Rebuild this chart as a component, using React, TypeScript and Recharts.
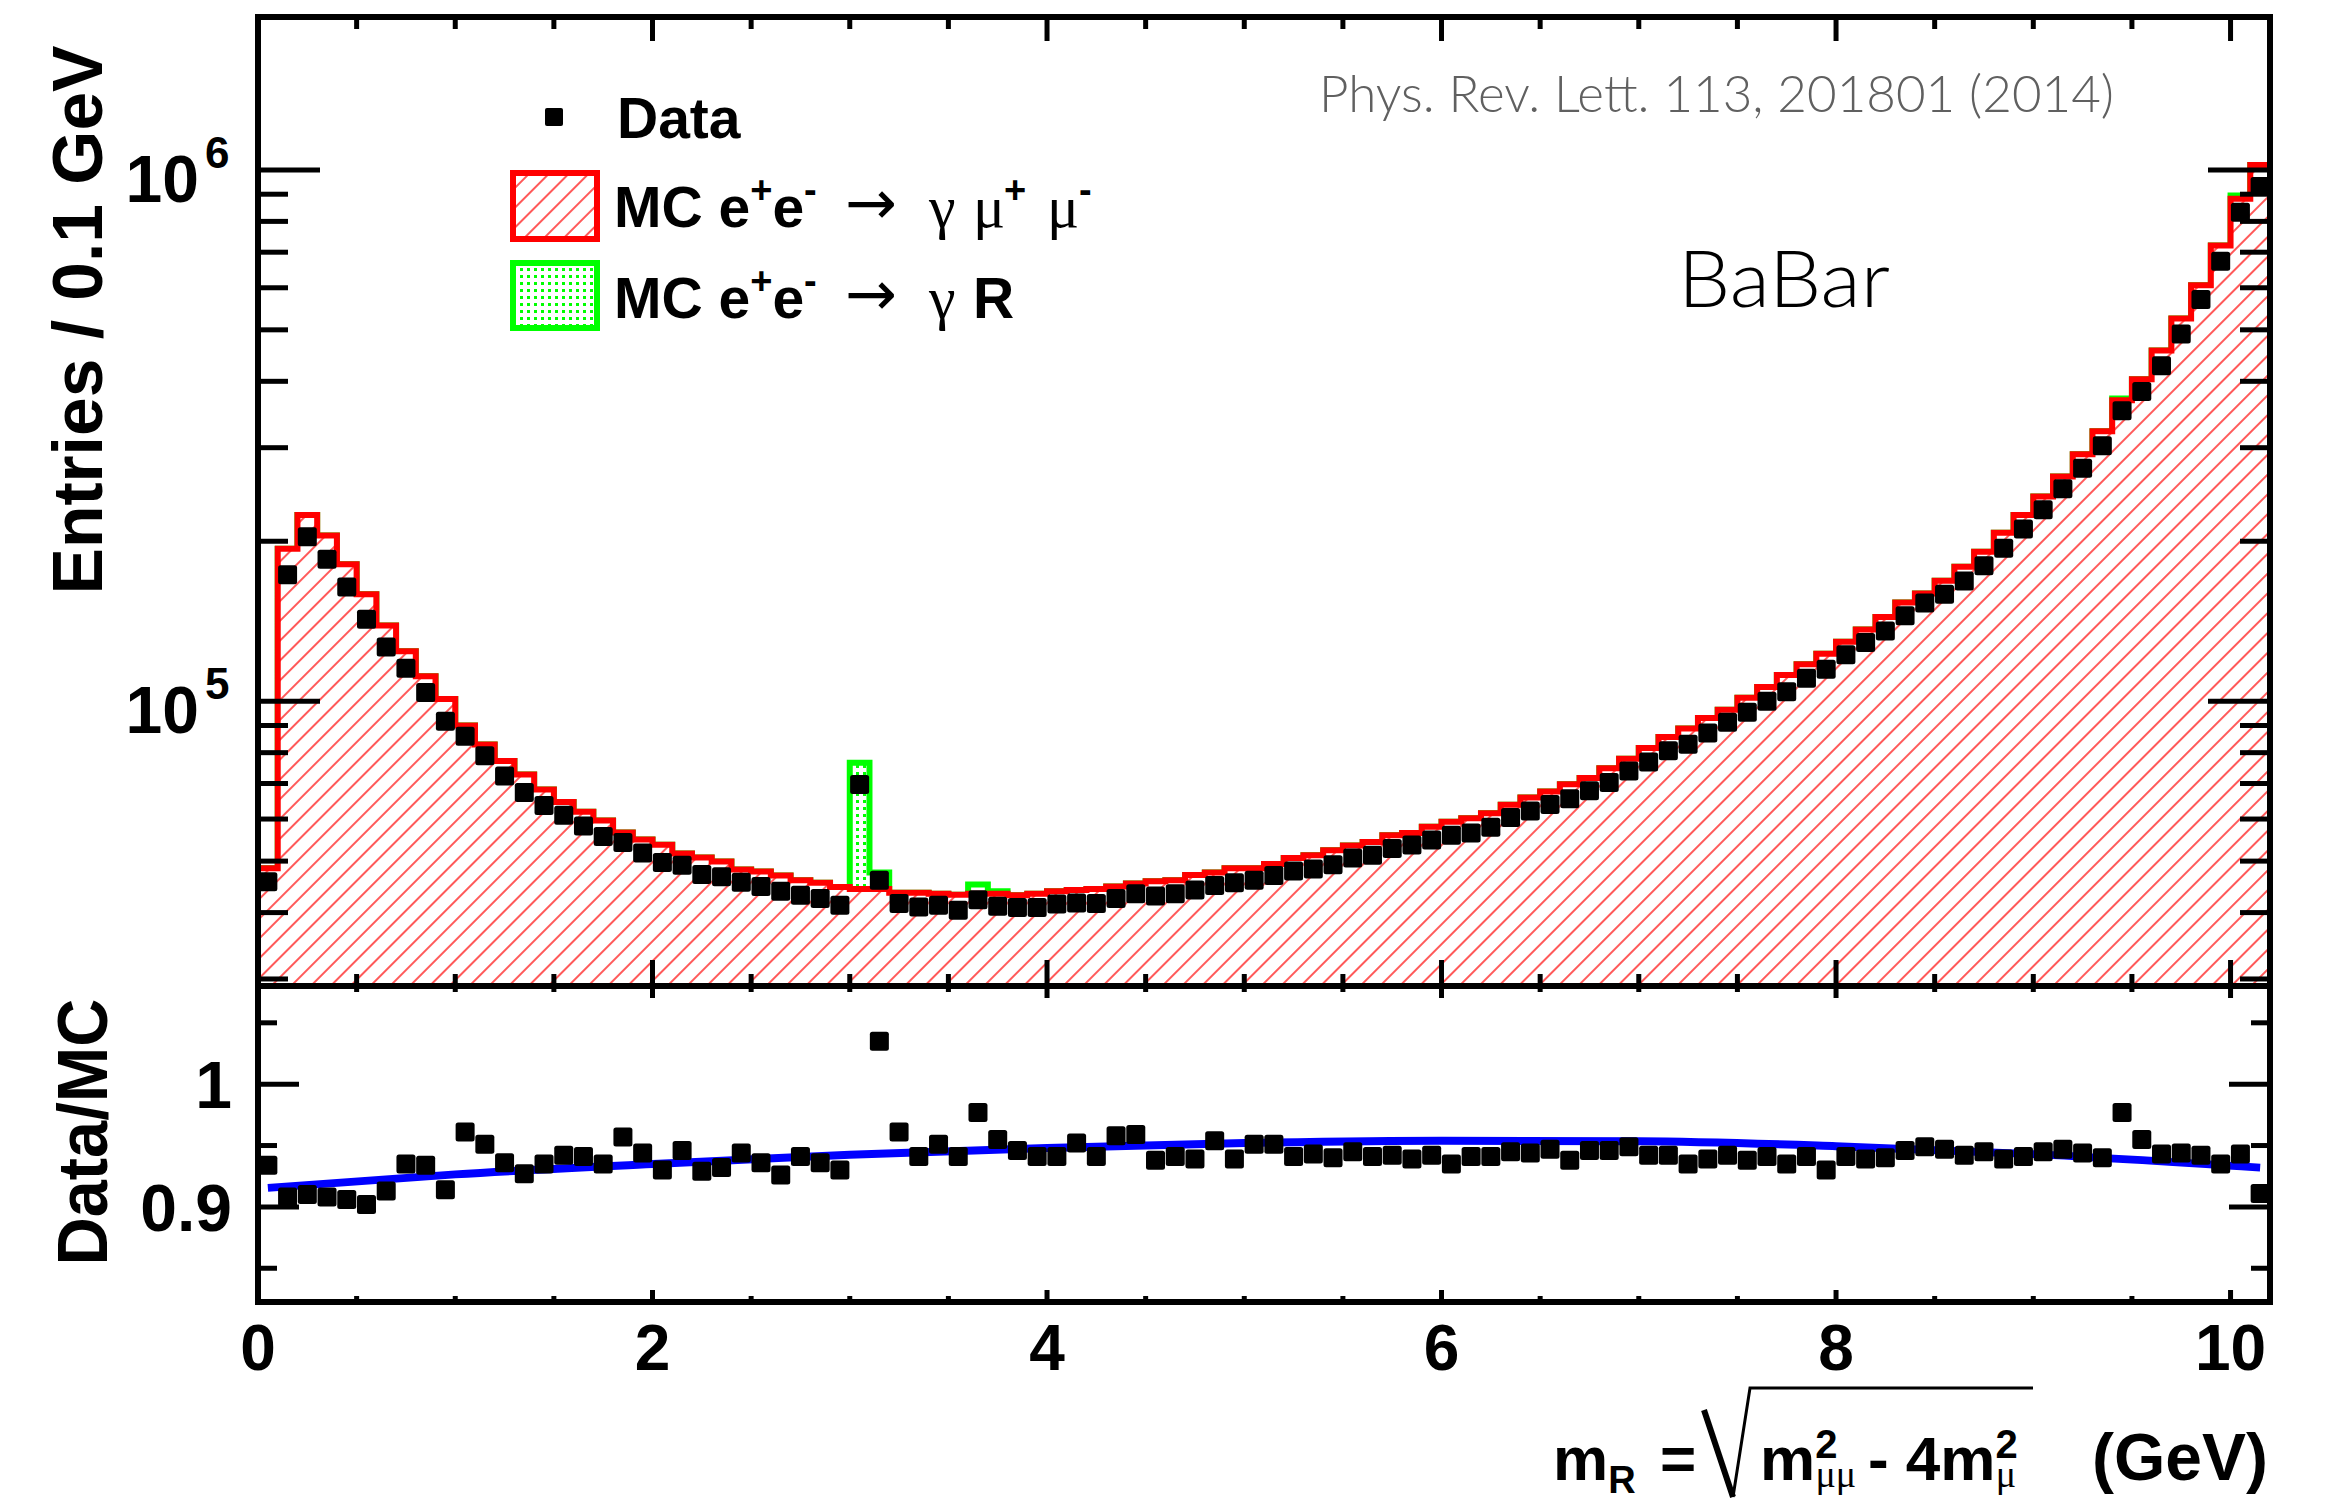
import React from "react";
import { ComposedChart, Area, Scatter, Line, XAxis, YAxis } from "recharts";

const W = 2330;
const H = 1502;

// 102 bins of 0.1 GeV, first bin starts at 0
const BIN_W = 0.1;

// MC e+e- -> gamma mu+ mu- (entries per bin)
const mcCounts = [
  48500, 193500, 224000, 205000, 181000, 159000, 138800, 124200, 111400, 100900,
  90000, 82900, 77200, 72800, 68200, 64600, 61900, 59600, 56600, 54900,
  53700, 51700, 50800, 49900, 48200, 47800, 47000, 46000, 45500, 44700,
  44300, 44300, 43600, 43600, 43400, 43200, 43400, 43400, 43100, 43400,
  43900, 44100, 44300, 44800, 45400, 45800, 46000, 47100, 47600, 48500,
  48500, 49400, 50700, 51300, 52400, 53500, 54300, 55900, 56500, 58000,
  59300, 60200, 61500, 63800, 65900, 67600, 69800, 71700, 74800, 77900,
  81600, 85600, 88800, 93000, 96400, 101500, 106300, 112000, 117300, 122800,
  129400, 136500, 144100, 153400, 159500, 168500, 179000, 191000, 207600, 224000,
  242800, 264700, 291600, 322300, 368400, 403700, 457300, 525000, 606600, 720500,
  882600, 1021000,
];

// MC e+e- -> gamma R (resonances), stacked on top
const signalBins = [30, 31, 36, 37, 94, 100];
const signalCounts = [32300, 3300, 1800, 500, 3000, 12000];

// data points
const dataCounts = [
  45700, 173000, 204000, 185000, 164000, 142600, 126500, 115300, 103800, 91700,
  85900, 78900, 72300, 67300, 63600, 61000, 58200, 55600, 54200, 51800,
  49700, 49100, 47200, 46700, 45600, 44800, 43900, 43100, 42500, 41300,
  69700, 46000, 41600, 41000, 41300, 40400, 42300, 41100, 40900, 40900,
  41500, 41700, 41600, 42500, 43400, 43000, 43400, 44100, 45000, 45500,
  46000, 47000, 47900, 48300, 49200, 50700, 51300, 52800, 53600, 54800,
  55900, 56500, 57900, 60400, 62100, 63900, 65500, 67800, 70300, 73900,
  76800, 80700, 83000, 87100, 91300, 95300, 100000, 104200, 110400, 114800,
  122300, 128900, 135600, 144800, 153000, 159000, 168400, 179800, 194000, 211000,
  229300, 251000, 274500, 302500, 352000, 382700, 427800, 491200, 570500, 672900,
  832700, 930400,
];

// Data/MC ratio (bin 30 is off scale)
const ratioVals: (number | null)[] = [
  0.934, 0.908, 0.91, 0.908, 0.906, 0.902, 0.913, 0.935, 0.934, 0.914,
  0.961, 0.951, 0.936, 0.927, 0.935, 0.942, 0.941, 0.935, 0.957, 0.944,
  0.93, 0.946, 0.929, 0.932, 0.944, 0.936, 0.926, 0.941, 0.936, 0.93,
  null, 1.035, 0.961, 0.941, 0.951, 0.941, 0.977, 0.955, 0.946, 0.941,
  0.941, 0.952, 0.941, 0.958, 0.959, 0.938, 0.941, 0.939, 0.954, 0.939,
  0.951, 0.951, 0.941, 0.943, 0.94, 0.945, 0.941, 0.942, 0.939, 0.942,
  0.935, 0.941, 0.941, 0.945, 0.944, 0.947, 0.938, 0.946, 0.946, 0.949,
  0.942, 0.942, 0.935, 0.939, 0.942, 0.938, 0.941, 0.935, 0.941, 0.93,
  0.941, 0.939, 0.94, 0.946, 0.949, 0.947, 0.942, 0.945, 0.939, 0.941,
  0.945, 0.947, 0.944, 0.94, 0.977, 0.955, 0.943, 0.944, 0.942, 0.935,
  0.943, 0.911,
];

// blue fit curve in the ratio panel
const fitX = [0.05, 1, 2, 3, 4, 5, 6, 7, 8, 9, 10.15];
const fitY = [0.9155, 0.9265, 0.935, 0.9425, 0.948, 0.952, 0.954, 0.9535, 0.9495, 0.943, 0.932];

// axes
const X_DOMAIN = [0, 10.2];
const xTicks = [0, 0.5, 1, 1.5, 2, 2.5, 3, 3.5, 4, 4.5, 5, 5.5, 6, 6.5, 7, 7.5, 8, 8.5, 9, 9.5, 10];
const xLabels = [0, 2, 4, 6, 8, 10];
const Y_DOMAIN = [29100, 1940000];
const yTicks = [
  30000, 40000, 50000, 60000, 70000, 80000, 90000,
  100000, 200000, 300000, 400000, 500000, 600000, 700000, 800000, 900000, 1000000,
];
const R_DOMAIN = [0.8225, 1.08];
const rTicks = [0.85, 0.9, 0.95, 1, 1.05];
const rLabels = [0.9, 1];

// ---- tables for recharts ----
const sigAt = (i: number) => {
  const k = signalBins.indexOf(i);
  return k >= 0 ? signalCounts[k] : 0;
};
const lastBin = mcCounts.length - 1;
const edgeRows = mcCounts.map((mc, i) => ({ x: i * BIN_W, mc, tot: mc + sigAt(i) }));
edgeRows.push({ x: mcCounts.length * BIN_W, mc: mcCounts[lastBin], tot: mcCounts[lastBin] + sigAt(lastBin) });
const dataPts = dataCounts.map((y, i) => ({ x: (i + 0.5) * BIN_W, y }));
const ratioPts = ratioVals
  .map((r, i) => ({ x: (i + 0.5) * BIN_W, r }))
  .filter((p) => p.r !== null);
const fitRows = fitX.map((x, i) => ({ x, fit: fitY[i] }));

const HELV = "'Liberation Sans', Arial, Helvetica, sans-serif";
const SYM = "'Liberation Serif', 'DejaVu Serif', serif";
const ARROW = "'DejaVu Sans', sans-serif";
const LIGHT = "Lato, 'Open Sans', sans-serif";
const AX = { stroke: "#000", strokeWidth: 6, strokeLinecap: "square" as const };
const TW = 5;

const isDecade = (v: number) => Math.abs(Math.log10(v) - Math.round(Math.log10(v))) < 1e-9;

const xTick = (dir: number, maj: number, min: number, labels: boolean) => (p: any) => {
  const major = xLabels.includes(p.payload.value);
  return (
    <g>
      <line x1={p.x} x2={p.x} y1={p.y} y2={p.y + dir * (major ? maj : min)} stroke="#000" strokeWidth={TW} />
      {labels && major && (
        <text x={p.x} y={p.y + 68} textAnchor="middle" fontFamily={HELV} fontWeight="bold" fontSize={64} fill="#000">
          {p.payload.value}
        </text>
      )}
    </g>
  );
};

const logTick = (dir: number, labels: boolean) => (p: any) => {
  const v = p.payload.value;
  const major = isDecade(v);
  return (
    <g>
      <line x1={p.x} x2={p.x + dir * (major ? 62 : 30)} y1={p.y} y2={p.y} stroke="#000" strokeWidth={TW} />
      {labels && major && (
        <g fontFamily={HELV} fontWeight="bold" fill="#000">
          <text x={p.x - 59} y={p.y + 32} textAnchor="end" fontSize={66}>10</text>
          <text x={p.x - 53} y={p.y - 2} fontSize={44}>{Math.round(Math.log10(v))}</text>
        </g>
      )}
    </g>
  );
};

const rTick = (dir: number, labels: boolean) => (p: any) => {
  const v = p.payload.value;
  const major = rLabels.includes(v);
  return (
    <g>
      <line x1={p.x} x2={p.x + dir * (major ? 41 : 19)} y1={p.y} y2={p.y} stroke="#000" strokeWidth={TW} />
      {labels && major && (
        <text x={p.x - 26} y={p.y + 24} textAnchor="end" fontFamily={HELV} fontWeight="bold" fontSize={66} fill="#000">
          {String(v)}
        </text>
      )}
    </g>
  );
};

const marker = (p: any) => <rect x={p.cx - 9.5} y={p.cy - 9.5} width={19} height={19} rx={2.5} fill="#000" />;

function Patterns({ suffix }: { suffix: string }) {
  return (
    <defs>
      <pattern id={"hatch" + suffix} patternUnits="userSpaceOnUse" width={14} height={14} patternTransform="rotate(45)">
        <rect width={14} height={14} fill="#fff" />
        <line x1={7} y1={0} x2={7} y2={14} stroke="#ff0000" strokeWidth={1.3} />
      </pattern>
      <pattern id={"dots" + suffix} patternUnits="userSpaceOnUse" width={7} height={7}>
        <rect width={7} height={7} fill="#fff" />
        <rect x={2} y={2} width={3} height={3} fill="#00ff00" />
      </pattern>
    </defs>
  );
}

function Overlay() {
  return (
    <svg width={W} height={H} style={{ position: "absolute", left: 0, top: 0, pointerEvents: "none" }}>
      <Patterns suffix="L" />
      {/* y titles */}
      <text transform="translate(102,320) rotate(-90)" textAnchor="middle" fontFamily={HELV} fontWeight="bold" fontSize={70} textLength={549} lengthAdjust="spacingAndGlyphs">
        Entries / 0.1 GeV
      </text>
      <text transform="translate(107,1132) rotate(-90)" textAnchor="middle" fontFamily={HELV} fontWeight="bold" fontSize={70} textLength={267} lengthAdjust="spacingAndGlyphs">
        Data/MC
      </text>

      {/* legend */}
      <rect x={545} y={108} width={18} height={18} rx={2} fill="#000" />
      <text x={617} y={138} fontFamily={HELV} fontWeight="bold" fontSize={57}>Data</text>

      <rect x={513} y={173} width={84} height={66} fill="url(#hatchL)" stroke="#ff0000" strokeWidth={6} />
      <g fontFamily={HELV} fontWeight="bold" fontSize={57} fill="#000">
        <text x={614} y={227}>
          MC e<tspan dy={-24} fontSize={38}>+</tspan>
          <tspan dy={24}>e</tspan>
          <tspan dy={-24} fontSize={38}>-</tspan>
        </text>
        <text x={845} y={224} fontFamily={ARROW} fontWeight="normal" fontSize={62}>→</text>
        <text x={929} y={227} fontFamily={SYM} fontWeight="normal" fontSize={60}>
          γ<tspan x={973}>μ</tspan>
          <tspan x={1004} dy={-24} fontFamily={HELV} fontWeight="bold" fontSize={38}>+</tspan>
          <tspan x={1047} dy={24}>μ</tspan>
          <tspan x={1079} dy={-24} fontFamily={HELV} fontWeight="bold" fontSize={38}>-</tspan>
        </text>
      </g>

      <rect x={513} y={263} width={84} height={65} fill="url(#dotsL)" stroke="#00ff00" strokeWidth={6} />
      <g fontFamily={HELV} fontWeight="bold" fontSize={57} fill="#000">
        <text x={614} y={318}>
          MC e<tspan dy={-24} fontSize={38}>+</tspan>
          <tspan dy={24}>e</tspan>
          <tspan dy={-24} fontSize={38}>-</tspan>
        </text>
        <text x={845} y={315} fontFamily={ARROW} fontWeight="normal" fontSize={62}>→</text>
        <text x={929} y={318} fontFamily={SYM} fontWeight="normal" fontSize={60}>
          γ<tspan x={973} fontFamily={HELV} fontWeight="bold" fontSize={57}>R</tspan>
        </text>
      </g>

      {/* annotations */}
      <text x={1319} y={112} fontFamily={LIGHT} fontWeight={300} fontSize={51} fill="#606060" textLength={795} lengthAdjust="spacingAndGlyphs">
        Phys. Rev. Lett. 113, 201801 (2014)
      </text>
      <text x={1678} y={307} fontFamily={LIGHT} fontWeight={300} fontSize={78} fill="#000" textLength={212} lengthAdjust="spacingAndGlyphs">
        BaBar
      </text>

      {/* x title */}
      <g fontFamily={HELV} fontWeight="bold" fill="#000">
        <text x={1553} y={1480} fontSize={62}>
          m<tspan dy={13} fontSize={38}>R</tspan>
          <tspan x={1660} dy={-13}>=</tspan>
        </text>
        <path d="M1704 1410 L1733 1497" stroke="#000" strokeWidth={6} fill="none" />
        <path d="M1733 1497 L1750 1388 L2033 1388" stroke="#000" strokeWidth={3} fill="none" />
        <text x={1760} y={1480} fontSize={62}>
          m<tspan dy={-22} fontSize={40}>2</tspan>
          <tspan dx={-22} dy={29} fontSize={38} fontFamily={SYM} fontWeight="normal">μμ</tspan>
          <tspan x={1868} dy={-7}>- 4m</tspan>
          <tspan dy={-22} fontSize={40}>2</tspan>
          <tspan dx={-22} dy={29} fontSize={38} fontFamily={SYM} fontWeight="normal">μ</tspan>
        </text>
        <text x={2092} y={1480} fontSize={66}>(GeV)</text>
      </g>
    </svg>
  );
}

export default function App() {
  return (
    <div style={{ position: "absolute", left: 0, top: 0, width: W, height: H, background: "#fff" }}>
      <div style={{ position: "absolute", left: 0, top: 0 }}>
        <ComposedChart width={W} height={987} data={edgeRows} margin={{ top: 16, right: 59, bottom: 0, left: 257 }}>
          <Patterns suffix="" />
          <Area
            xAxisId="b"
            yAxisId="l"
            type="stepAfter"
            dataKey="tot"
            stroke="#00ff00"
            strokeWidth={6}
            fill="url(#dots)"
            fillOpacity={1}
            baseValue={Y_DOMAIN[0]}
            dot={false}
            activeDot={false}
            isAnimationActive={false}
          />
          <Area
            xAxisId="b"
            yAxisId="l"
            type="stepAfter"
            dataKey="mc"
            stroke="#ff0000"
            strokeWidth={6}
            fill="url(#hatch)"
            fillOpacity={1}
            baseValue={Y_DOMAIN[0]}
            dot={false}
            activeDot={false}
            isAnimationActive={false}
          />
          <Scatter xAxisId="b" yAxisId="l" data={dataPts} dataKey="y" shape={marker} isAnimationActive={false} />
          <XAxis xAxisId="b" dataKey="x" type="number" domain={X_DOMAIN} allowDataOverflow ticks={xTicks} interval={0}
            height={1} tickSize={0} tickMargin={0} tickLine={false} axisLine={AX} tick={xTick(-1, 26, 12, false)} />
          <XAxis xAxisId="t" orientation="top" dataKey="x" type="number" domain={X_DOMAIN} allowDataOverflow ticks={xTicks} interval={0}
            height={1} tickSize={0} tickMargin={0} tickLine={false} axisLine={AX} tick={xTick(1, 24, 12, false)} />
          <YAxis yAxisId="l" type="number" scale="log" domain={Y_DOMAIN} allowDataOverflow ticks={yTicks} interval={0}
            width={1} tickSize={0} tickMargin={0} tickLine={false} axisLine={AX} tick={logTick(1, true)} />
          <YAxis yAxisId="r" orientation="right" type="number" scale="log" domain={Y_DOMAIN} allowDataOverflow ticks={yTicks} interval={0}
            width={1} tickSize={0} tickMargin={0} tickLine={false} axisLine={AX} tick={logTick(-1, false)} />
        </ComposedChart>
      </div>
      <div style={{ position: "absolute", left: 0, top: 0 }}>
        <ComposedChart width={W} height={H} data={fitRows} margin={{ top: 985, right: 59, bottom: 199, left: 257 }}>
          <Line xAxisId="b" yAxisId="l" type="monotone" dataKey="fit" stroke="#0000ff" strokeWidth={8} dot={false} activeDot={false} isAnimationActive={false} />
          <Scatter xAxisId="b" yAxisId="l" data={ratioPts} dataKey="r" shape={marker} isAnimationActive={false} />
          <XAxis xAxisId="b" dataKey="x" type="number" domain={X_DOMAIN} allowDataOverflow ticks={xTicks} interval={0}
            height={1} tickSize={0} tickMargin={0} tickLine={false} axisLine={AX} tick={xTick(-1, 12, 6, true)} />
          <XAxis xAxisId="t" orientation="top" dataKey="x" type="number" domain={X_DOMAIN} allowDataOverflow ticks={xTicks} interval={0}
            height={1} tickSize={0} tickMargin={0} tickLine={false} axisLine={AX} tick={xTick(1, 12, 6, false)} />
          <YAxis yAxisId="l" type="number" domain={R_DOMAIN} allowDataOverflow ticks={rTicks} interval={0}
            width={1} tickSize={0} tickMargin={0} tickLine={false} axisLine={AX} tick={rTick(1, true)} />
          <YAxis yAxisId="r" orientation="right" type="number" domain={R_DOMAIN} allowDataOverflow ticks={rTicks} interval={0}
            width={1} tickSize={0} tickMargin={0} tickLine={false} axisLine={AX} tick={rTick(-1, false)} />
        </ComposedChart>
      </div>
      <Overlay />
    </div>
  );
}
